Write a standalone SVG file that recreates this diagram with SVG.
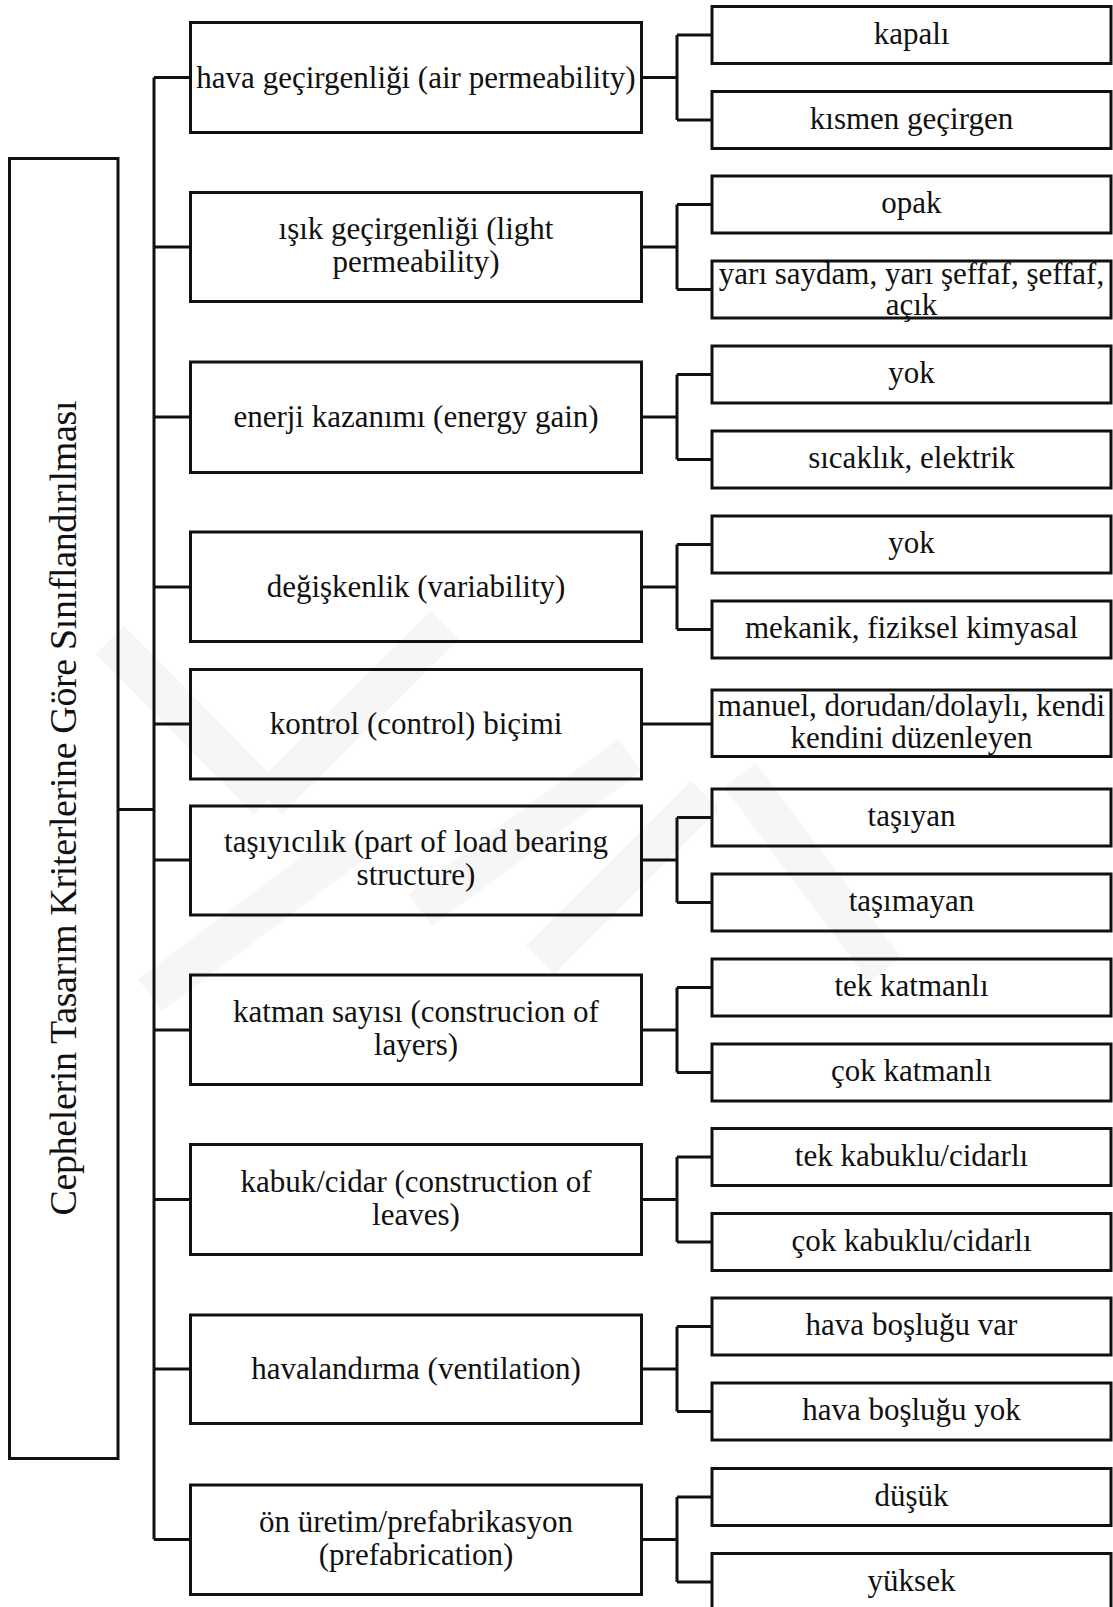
<svg xmlns="http://www.w3.org/2000/svg" width="1113" height="1607" viewBox="0 0 1113 1607">
  <style>
    .box { fill: none; stroke: #111; stroke-width: 3; }
    .wire { fill: none; stroke: #111; stroke-width: 3; }
    .t { font-family: "Liberation Serif", "Times New Roman", serif; font-size: 31px; fill: #111; text-anchor: middle; }
    .root { font-family: "Liberation Serif", "Times New Roman", serif; font-size: 38px; fill: #111; text-anchor: middle; }
    .mark { fill: none; stroke: #f6f6f6; stroke-width: 40; stroke-linecap: butt; }
  </style>
  <rect x="0" y="0" width="1113" height="1607" fill="#fff"/>

  <!-- faint background emblem -->
  <g id="emblem">
    <line class="mark" x1="110" y1="640" x2="268" y2="800"/>
    <line class="mark" x1="268" y1="800" x2="445" y2="625"/>
    <line class="mark" x1="150" y1="995" x2="350" y2="845"/>
    <line class="mark" x1="420" y1="910" x2="630" y2="755"/>
    <line class="mark" x1="540" y1="960" x2="705" y2="795"/>
    <line class="mark" x1="740" y1="775" x2="885" y2="970"/>
  </g>

  <!-- connectors -->
  <g id="connectors">
    <line class="wire" x1="118" y1="809.5" x2="154" y2="809.5"/>
    <line class="wire" x1="154" y1="77.5" x2="154" y2="1539.5"/>
    <path class="wire" d="M154 77.5H190.5 M154 247H190.5 M154 417H190.5 M154 587H190.5 M154 724H190.5 M154 860H190.5 M154 1030H190.5 M154 1199.5H190.5 M154 1369H190.5 M154 1539.5H190.5"/>
    <!-- brackets to leaf pairs -->
    <path class="wire" d="M641.5 77.5H677 M677 35V120 M677 35H712 M677 120H712"/>
    <path class="wire" d="M641.5 247H677 M677 204.5V289.5 M677 204.5H712 M677 289.5H712"/>
    <path class="wire" d="M641.5 417H677 M677 374.5V459.5 M677 374.5H712 M677 459.5H712"/>
    <path class="wire" d="M641.5 587H677 M677 544.5V629.5 M677 544.5H712 M677 629.5H712"/>
    <path class="wire" d="M641.5 724H712"/>
    <path class="wire" d="M641.5 860H677 M677 817.5V902.5 M677 817.5H712 M677 902.5H712"/>
    <path class="wire" d="M641.5 1030H677 M677 987.5V1072.5 M677 987.5H712 M677 1072.5H712"/>
    <path class="wire" d="M641.5 1199.5H677 M677 1157V1242 M677 1157H712 M677 1242H712"/>
    <path class="wire" d="M641.5 1369H677 M677 1326.5V1411.5 M677 1326.5H712 M677 1411.5H712"/>
    <path class="wire" d="M641.5 1539.5H677 M677 1497V1582 M677 1497H712 M677 1582H712"/>
  </g>

  <!-- root -->
  <g id="root">
    <rect class="box" x="9.5" y="158.5" width="108.5" height="1300"/>
    <text class="root" transform="translate(76 808) rotate(-90)" textLength="815" lengthAdjust="spacing">Cephelerin Tasarım Kriterlerine Göre Sınıflandırılması</text>
  </g>

  <!-- criteria -->
  <g id="c1"><rect class="box" x="190.5" y="22.5" width="451" height="110"/>
    <text class="t" x="416" y="87.5">hava geçirgenliği (air permeability)</text></g>
  <g id="c2"><rect class="box" x="190.5" y="192.5" width="451" height="109"/>
    <text class="t" x="416" y="239">ışık geçirgenliği (light</text>
    <text class="t" x="416" y="272">permeability)</text></g>
  <g id="c3"><rect class="box" x="190.5" y="362" width="451" height="110.5"/>
    <text class="t" x="416" y="427">enerji kazanımı (energy gain)</text></g>
  <g id="c4"><rect class="box" x="190.5" y="532" width="451" height="109.5"/>
    <text class="t" x="416" y="597">değişkenlik (variability)</text></g>
  <g id="c5"><rect class="box" x="190.5" y="669.5" width="451" height="109.5"/>
    <text class="t" x="416" y="734">kontrol (control) biçimi</text></g>
  <g id="c6"><rect class="box" x="190.5" y="806" width="451" height="109"/>
    <text class="t" x="416" y="852">taşıyıcılık (part of load bearing</text>
    <text class="t" x="416" y="885">structure)</text></g>
  <g id="c7"><rect class="box" x="190.5" y="975" width="451" height="109.5"/>
    <text class="t" x="416" y="1022">katman sayısı (construcion of</text>
    <text class="t" x="416" y="1055">layers)</text></g>
  <g id="c8"><rect class="box" x="190.5" y="1144.5" width="451" height="110"/>
    <text class="t" x="416" y="1191.5">kabuk/cidar (construction of</text>
    <text class="t" x="416" y="1224.5">leaves)</text></g>
  <g id="c9"><rect class="box" x="190.5" y="1315" width="451" height="108.5"/>
    <text class="t" x="416" y="1379">havalandırma (ventilation)</text></g>
  <g id="c10"><rect class="box" x="190.5" y="1485" width="451" height="109.5"/>
    <text class="t" x="416" y="1531.5">ön üretim/prefabrikasyon</text>
    <text class="t" x="416" y="1564.5">(prefabrication)</text></g>

  <!-- options -->
  <g id="o1a"><rect class="box" x="712" y="6.5" width="399" height="57"/><text class="t" x="911.5" y="43.5">kapalı</text></g>
  <g id="o1b"><rect class="box" x="712" y="91.5" width="399" height="57"/><text class="t" x="911.5" y="128.5">kısmen geçirgen</text></g>
  <g id="o2a"><rect class="box" x="712" y="176" width="399" height="57"/><text class="t" x="911.5" y="213">opak</text></g>
  <g id="o2b"><rect class="box" x="712" y="261" width="399" height="57"/>
    <text class="t" x="911.5" y="284">yarı saydam, yarı şeffaf, şeffaf,</text>
    <text class="t" x="911.5" y="315">açık</text></g>
  <g id="o3a"><rect class="box" x="712" y="346" width="399" height="57"/><text class="t" x="911.5" y="383">yok</text></g>
  <g id="o3b"><rect class="box" x="712" y="431" width="399" height="57"/><text class="t" x="911.5" y="468">sıcaklık, elektrik</text></g>
  <g id="o4a"><rect class="box" x="712" y="516" width="399" height="57"/><text class="t" x="911.5" y="553">yok</text></g>
  <g id="o4b"><rect class="box" x="712" y="601" width="399" height="57"/><text class="t" x="911.5" y="638">mekanik, fiziksel kimyasal</text></g>
  <g id="o5"><rect class="box" x="712" y="690" width="399" height="66.5"/>
    <text class="t" x="911.5" y="716">manuel, dorudan/dolaylı, kendi</text>
    <text class="t" x="911.5" y="748">kendini düzenleyen</text></g>
  <g id="o6a"><rect class="box" x="712" y="789" width="399" height="57"/><text class="t" x="911.5" y="826">taşıyan</text></g>
  <g id="o6b"><rect class="box" x="712" y="874" width="399" height="57"/><text class="t" x="911.5" y="911">taşımayan</text></g>
  <g id="o7a"><rect class="box" x="712" y="959" width="399" height="57"/><text class="t" x="911.5" y="996">tek katmanlı</text></g>
  <g id="o7b"><rect class="box" x="712" y="1044" width="399" height="57"/><text class="t" x="911.5" y="1081">çok katmanlı</text></g>
  <g id="o8a"><rect class="box" x="712" y="1128.5" width="399" height="57"/><text class="t" x="911.5" y="1165.5">tek kabuklu/cidarlı</text></g>
  <g id="o8b"><rect class="box" x="712" y="1213.5" width="399" height="57"/><text class="t" x="911.5" y="1250.5">çok kabuklu/cidarlı</text></g>
  <g id="o9a"><rect class="box" x="712" y="1298" width="399" height="57"/><text class="t" x="911.5" y="1335">hava boşluğu var</text></g>
  <g id="o9b"><rect class="box" x="712" y="1383" width="399" height="57"/><text class="t" x="911.5" y="1420">hava boşluğu yok</text></g>
  <g id="o10a"><rect class="box" x="712" y="1468.5" width="399" height="57"/><text class="t" x="911.5" y="1505.5">düşük</text></g>
  <g id="o10b"><rect class="box" x="712" y="1553.5" width="399" height="57"/><text class="t" x="911.5" y="1590.5">yüksek</text></g>
</svg>
